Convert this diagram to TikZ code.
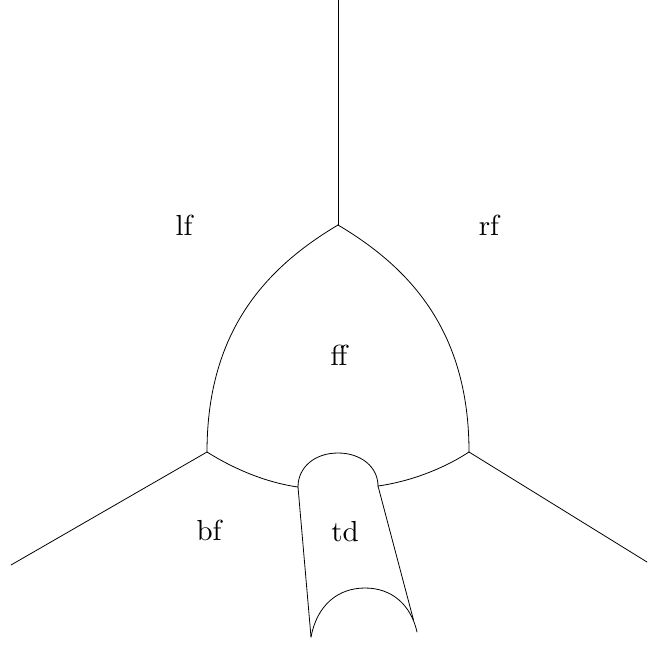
\documentclass[tikz,border=0pt]{standalone}
\font\lblfont=cmr10 at 29pt
\tikzset{lbl/.style={inner sep=0pt,font=\lblfont}, edge/.style={line width=0.8pt,line cap=round}}
\begin{document}
\begin{tikzpicture}[x=1pt,y=-1pt,edge]
\useasboundingbox (0,0) rectangle (660,645);
\coordinate (t) at (338,0);
\coordinate (c) at (338,225);
\coordinate (l) at (207,452);
\coordinate (r) at (469,452);
\coordinate (bl) at (11,565);
\coordinate (br) at (647,562);
\coordinate (a) at (298,487);
\coordinate (b) at (378,486);
\coordinate (p) at (338,453);
\coordinate (d) at (311,637);
\coordinate (e) at (417,632);
\coordinate (q) at (365,588);
\coordinate (e2) at (413.5,620);
\draw (t) -- (c);
\draw (c) .. controls (262,270) and (207,335) .. (l);
\draw (c) .. controls (414,270) and (469,335) .. (r);
\draw (l) -- (bl);
\draw (r) -- (br);
\draw (l) .. controls (234,469) and (266,482.5) .. (a);
\draw (r) .. controls (443,469) and (410,481.5) .. (b);
\draw (a) .. controls (298,467) and (315,453) .. (p) .. controls (361,453) and (378,467) .. (b);
\draw (a) -- (d);
\draw (b) -- (e2);
\draw (d) .. controls (317,605) and (338,588) .. (q) .. controls (392,588) and (411,605) .. (e);
\node[lbl] (lf) at (184,225) {lf};
\node[lbl] (rf) at (489,225) {rf};
\node[lbl] (ff) at (339,355) {ff};
\node[lbl] (bf) at (209,530) {bf};
\node[lbl] (td) at (345,531) {td};
\end{tikzpicture}
\end{document}
